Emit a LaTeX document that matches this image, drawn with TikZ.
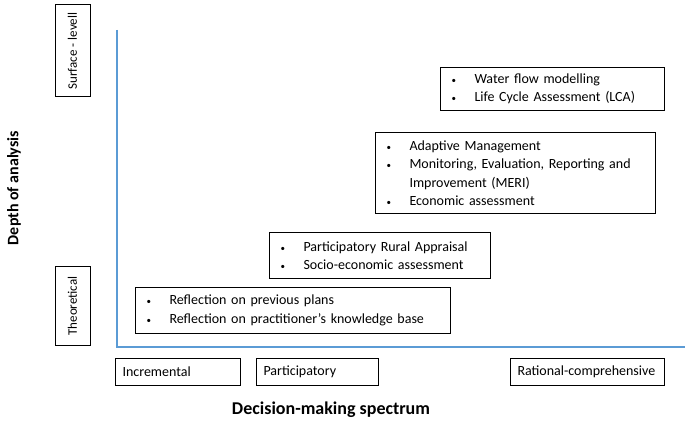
\documentclass[tikz,border=0pt]{standalone}
\usepackage{fontspec}
\setmainfont{Carlito}
\usetikzlibrary{positioning}
\definecolor{axisblue}{RGB}{91,155,213}
\tikzset{
axisline/.style={draw=axisblue, line width=1.4pt},
itembox/.style={
	  draw, line width=1pt, anchor=north west, align=left,
	    inner xsep=11pt, font=\fontsize{14}{18.5}\selectfont},
spectrumbox/.style={
	  draw, line width=1pt, anchor=north west, align=left,
	    minimum height=27pt, inner xsep=7pt, font=\fontsize{14}{16}\selectfont},
levelbox/.style={
	  draw, line width=1pt, rotate=90, minimum height=35pt,
	    font=\fontsize{13}{15}\selectfont},
axistitle/.style={font=\bfseries}
}
\newcommand{\bul}{\makebox[23pt][l]{\fontsize{9}{9}\selectfont\textbullet}}
\newcommand{\cont}{\hspace*{23pt}}

\begin{document}
\begin{tikzpicture}[x=1pt, y=-1pt]
	\useasboundingbox (0,0) rectangle (685,430);
	% axes
	\coordinate (origin) at (117,347);
	\coordinate (ytop) at (117,30);
	\coordinate (xend) at (685,347);
	\draw[axisline] (ytop) -- (origin) -- (xend);
	% depth of analysis
	\node[axistitle, rotate=90, font=\fontsize{16}{19}\selectfont\bfseries] (depth) at (14,188) {Depth of analysis};
	\node[levelbox, minimum width=92pt] (surface) at (72.5,51) {Surface - levell};
	\node[levelbox, minimum width=78pt] (theory) at (72.5,306) {Theoretical};
	% decision-making spectrum
	\node[spectrumbox, text width=111pt] (incr) at (115,358) {Incremental};
	\node[spectrumbox, text width=108pt] (partic) at (256,358) {Participatory};
	\node[spectrumbox, text width=140pt] (rational) at (510,358) {Rational-comprehensive};
	\node[axistitle, font=\fontsize{18}{21}\selectfont\bfseries] (spectrum) at (331,410) {Decision-making spectrum};
	% methods
	\node[itembox, text width=293pt, minimum height=46pt] (reflect) at (135,287)
		{\bul Reflection on previous plans\\ \bul Reflection on practitioner's knowledge base};
	\node[itembox, text width=199pt, minimum height=46pt] (rural) at (269,232)
		{\bul Participatory Rural Appraisal\\ \bul Socio-economic assessment};
	\node[itembox, text width=258pt, minimum height=81pt] (adaptive) at (375,132)
		{\bul Adaptive Management\\ \bul Monitoring, Evaluation, Reporting and\\
		 \cont Improvement (MERI)\\ \bul Economic assessment};
	\node[itembox, text width=202pt, minimum height=43pt] (water) at (440,67)
		{\bul Water flow modelling\\ \bul Life Cycle Assessment (LCA)};
\end{tikzpicture}
\end{document}
